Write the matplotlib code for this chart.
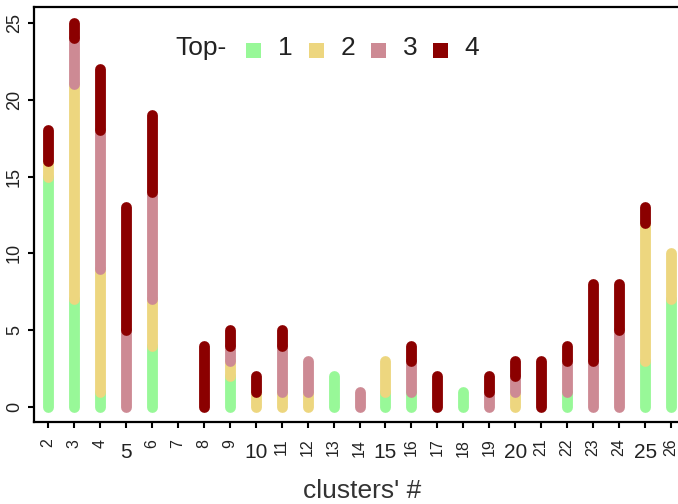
import matplotlib
matplotlib.use("Agg")
import matplotlib.pyplot as plt
from matplotlib.patches import Rectangle
import numpy as np

plt.rcParams["font.family"] = ["Liberation Sans", "DejaVu Sans"]

clusters = list(range(2, 27))
top1 = [15, 7, 1, 0, 4, 0, 0, 2, 0, 0, 0, 2, 0, 1, 1, 0, 1, 0, 0, 0, 1, 0, 0, 3, 7]
top2 = [1, 14, 8, 0, 3, 0, 0, 1, 1, 1, 1, 0, 0, 2, 0, 0, 0, 0, 1, 0, 0, 0, 0, 9, 3]
top3 = [0, 3, 9, 5, 7, 0, 0, 1, 0, 3, 2, 0, 1, 0, 2, 0, 0, 1, 1, 0, 2, 3, 5, 0, 0]
top4 = [2, 1, 4, 8, 5, 0, 4, 1, 1, 1, 0, 0, 0, 0, 1, 2, 0, 1, 1, 3, 1, 5, 3, 1, 0]
series = [top1, top2, top3, top4]
labels = ["1", "2", "3", "4"]
colors = ["#98F898", "#EDD67F", "#CD8A94", "#8B0000"]

W, H = 678, 504
fig = plt.figure(figsize=(W / 100, H / 100), dpi=100)
ax = fig.add_axes([34 / W, 1 - 422 / H, (690 - 34) / W, (422 - 7) / H])

x = np.array(clusters)
base = np.zeros(len(clusters))
for vals, col in zip(series, colors):
    vals = np.array(vals, dtype=float)
    for xi, b, v in zip(x, base, vals):
        if v > 0:
            ax.plot([xi, xi], [b, b + v], color=col, lw=7.8, solid_capstyle="round")
    base = base + vals

ax.set_xlim(1.461, 26.73)
ax.set_ylim(-0.98, 26.04)

# small rotated labels on most ticks, large flat labels every fifth cluster
small = [c for c in clusters if c % 5 != 0]
big = [c for c in clusters if c % 5 == 0]
ax.set_xticks(small)
ax.set_xticklabels([str(c) for c in small], rotation=90, fontsize=11.5)
ax.set_xticks(big, minor=True)
ax.set_xticklabels([str(c) for c in big], minor=True, fontsize=15)
ax.tick_params(axis="x", which="major", length=4, width=1.5, pad=8, labelcolor="#222222")
ax.tick_params(axis="x", which="minor", length=4, width=1.5, pad=11, labelcolor="#222222")

ax.set_yticks(range(0, 26, 5))
ax.set_yticklabels([str(v) for v in range(0, 26, 5)], rotation=90, va="center", fontsize=13)
ax.tick_params(axis="y", length=4, width=1.5, pad=4, labelcolor="#222222")

for side in ["left", "bottom", "top", "right"]:
    ax.spines[side].set_linewidth(1.6)

ax.set_xlabel("clusters' #", fontsize=19, color="#333333", labelpad=12)

# legend row
fig.text(175 / W, 1 - 48 / H, "Top-", fontsize=19, va="center", ha="left", color="#222222")
sq_x = [253, 316, 378, 440]
for sx, lab, col in zip(sq_x, labels, colors):
    fig.add_artist(Rectangle(((sx - 7.5) / W, 1 - (50 + 7.5) / H), 15 / W, 15 / H,
                             transform=fig.transFigure, color=col, lw=0))
    fig.text((sx + 32) / W, 1 - 48 / H, lab, fontsize=19, va="center", ha="center", color="#222222")

fig.savefig("out.png", dpi=100)
